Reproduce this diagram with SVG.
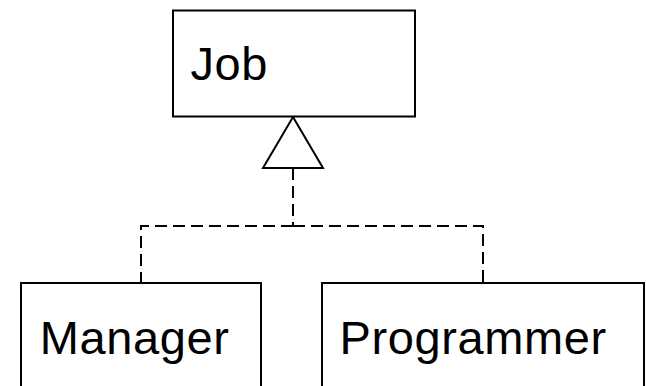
<svg xmlns="http://www.w3.org/2000/svg" width="646" height="386" viewBox="0 0 646 386">
<style>
.box{fill:#fff;stroke:#000;stroke-width:2}
.lbl{font-family:"Liberation Sans",Arial,sans-serif;font-size:47px;letter-spacing:0.6px;fill:#000}
.dash{fill:none;stroke:#000;stroke-width:2;stroke-dasharray:12 6}
.tri{fill:#fff;stroke:#000;stroke-width:2;stroke-linejoin:miter}
</style>
<rect width="646" height="386" fill="#fff"/>
<g id="connectors">
<path class="dash" d="M293 168 V226"/>
<path class="dash" d="M293 226 H141 V283"/>
<path class="dash" d="M293 226 H483 V283"/>
<polygon class="tri" points="293,117 263,168 323,168"/>
</g>
<g id="job">
<rect class="box" x="173" y="10.5" width="242" height="106"/>
<text class="lbl" x="190.5" y="80">Job</text>
</g>
<g id="manager">
<rect class="box" x="21" y="283" width="240" height="120"/>
<text class="lbl" x="39.8" y="353.5">Manager</text>
</g>
<g id="programmer">
<rect class="box" x="322" y="283" width="322" height="120"/>
<text class="lbl" x="339.5" y="353.5">Programmer</text>
</g>
</svg>
